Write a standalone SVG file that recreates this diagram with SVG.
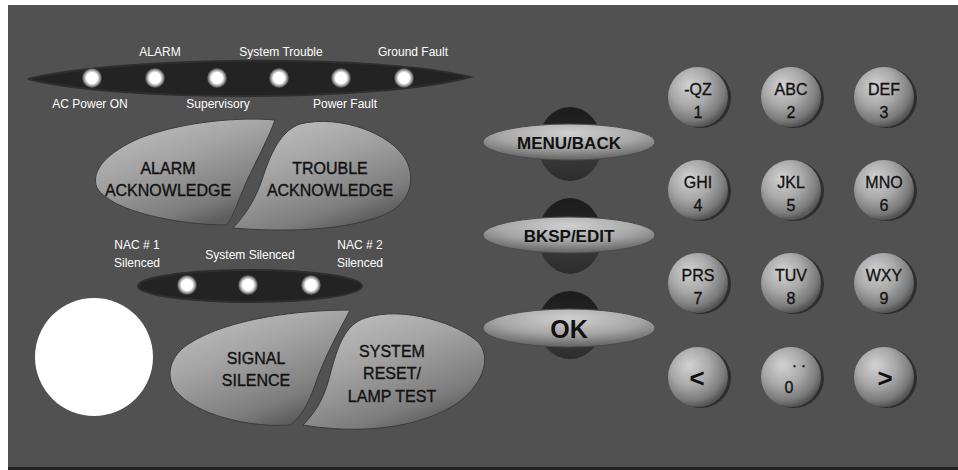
<svg xmlns="http://www.w3.org/2000/svg" width="958" height="470" viewBox="0 0 958 470">
<defs>
  <linearGradient id="bigBtn" x1="0" y1="0" x2="0.6" y2="1">
    <stop offset="0" stop-color="#c4c4c4"/>
    <stop offset="0.45" stop-color="#a4a4a4"/>
    <stop offset="0.85" stop-color="#7c7c7c"/>
    <stop offset="1" stop-color="#5e5e5e"/>
  </linearGradient>
  <radialGradient id="oval" cx="0.5" cy="0.25" r="0.7">
    <stop offset="0" stop-color="#d0d0d0"/>
    <stop offset="0.6" stop-color="#a6a6a6"/>
    <stop offset="1" stop-color="#6c6c6c"/>
  </radialGradient>
  <linearGradient id="dome" x1="0" y1="0" x2="0" y2="1">
    <stop offset="0" stop-color="#1c1c1c"/>
    <stop offset="0.5" stop-color="#262626"/>
    <stop offset="0.52" stop-color="#3e3e3e"/>
    <stop offset="1" stop-color="#2c2c2c"/>
  </linearGradient>
  <radialGradient id="key" cx="0.4" cy="0.35" r="0.65" fx="0.35" fy="0.3">
    <stop offset="0" stop-color="#d2d2d2"/>
    <stop offset="0.5" stop-color="#a9a9a9"/>
    <stop offset="0.85" stop-color="#7a7a7a"/>
    <stop offset="1" stop-color="#555555"/>
  </radialGradient>
  <radialGradient id="led" cx="0.5" cy="0.5" r="0.5">
    <stop offset="0" stop-color="#ffffff"/>
    <stop offset="0.55" stop-color="#ffffff"/>
    <stop offset="0.8" stop-color="#9a9a9a"/>
    <stop offset="1" stop-color="#3a3a3a"/>
  </radialGradient>
</defs>
<style>
  .lbl{font-family:"Liberation Sans",Arial,sans-serif;font-size:12px;fill:#ffffff;text-anchor:middle}
  .btxt{font-family:"Liberation Sans",Arial,sans-serif;font-size:16px;fill:#111111;stroke:#111111;stroke-width:0.35;text-anchor:middle}
  .otxt{font-family:"Liberation Sans",Arial,sans-serif;font-size:17px;font-weight:bold;fill:#111111;text-anchor:middle}
  .ktxt{font-family:"Liberation Sans",Arial,sans-serif;font-size:16px;fill:#111111;stroke:#111111;stroke-width:0.3;text-anchor:middle}
  .kdig{font-family:"Liberation Sans",Arial,sans-serif;font-size:16px;fill:#111111;stroke:#111111;stroke-width:0.3;text-anchor:middle}
  .karr{font-family:"Liberation Sans",Arial,sans-serif;font-size:26px;font-weight:bold;fill:#111111;text-anchor:middle}
  .big{fill:url(#bigBtn);stroke:#3c3c3c;stroke-width:1}
  .ov{fill:url(#oval);stroke:#4a4a4a;stroke-width:1}
  .dm{fill:url(#dome)}
  .k{fill:url(#key)}
  .ks{fill:#2e2e2e}
  .led{fill:url(#led)}
</style>
<rect x="0" y="0" width="958" height="470" fill="#ffffff"/>
<rect x="8" y="5" width="950" height="465" fill="#515151"/>
<rect x="8" y="467" width="950" height="3" fill="#222222"/>

<g id="top-leds">
  <path d="M28,79 C120,56 380,54 470,77 C380,102 120,102 28,79 Z" fill="#232323" stroke="#2e2e2e" stroke-width="2"/>
  <circle class="led" cx="92" cy="78" r="10"/>
  <circle class="led" cx="155" cy="78" r="10"/>
  <circle class="led" cx="217" cy="78" r="10"/>
  <circle class="led" cx="279" cy="78" r="10"/>
  <circle class="led" cx="341" cy="78" r="10"/>
  <circle class="led" cx="404" cy="78" r="10"/>
  <text class="lbl" x="160" y="56">ALARM</text>
  <text class="lbl" x="281" y="56">System Trouble</text>
  <text class="lbl" x="413" y="56">Ground Fault</text>
  <text class="lbl" x="90" y="108">AC Power ON</text>
  <text class="lbl" x="218" y="108">Supervisory</text>
  <text class="lbl" x="345" y="108">Power Fault</text>
</g>

<g id="alarm-ack">
  <path class="big" d="M275,120 C268,140 252,168 242,192 C236,207 233,217 226,225 C180,225 112,212 97,188 C90,170 108,152 140,138 C185,121 240,117 275,120 Z"/>
  <text class="btxt" x="168" y="174">ALARM</text>
  <text class="btxt" x="168" y="196">ACKNOWLEDGE</text>
</g>
<g id="trouble-ack">
  <path class="big" d="M233,228 C246,214 255,200 262,180 C270,155 280,131 300,124 C340,114 392,134 406,160 C416,180 410,200 390,212 C350,232 280,232 233,228 Z"/>
  <text class="btxt" x="330" y="174">TROUBLE</text>
  <text class="btxt" x="330" y="196">ACKNOWLEDGE</text>
</g>

<g id="lower-leds">
  <ellipse cx="250" cy="286" rx="112" ry="16" fill="#232323" stroke="#2e2e2e" stroke-width="2"/>
  <circle class="led" cx="187" cy="285" r="10"/>
  <circle class="led" cx="248" cy="285" r="10"/>
  <circle class="led" cx="311" cy="285" r="10"/>
  <text class="lbl" x="137" y="249">NAC # 1</text>
  <text class="lbl" x="137" y="267">Silenced</text>
  <text class="lbl" x="250" y="259">System Silenced</text>
  <text class="lbl" x="360" y="249">NAC # 2</text>
  <text class="lbl" x="360" y="267">Silenced</text>
</g>

<g id="white-circle">
  <circle cx="94" cy="357" r="59" fill="#ffffff"/>
</g>

<g id="signal-silence">
  <path class="big" d="M350,310 C340,330 325,355 315,385 C308,405 300,418 290,425 C250,428 195,415 175,390 C165,375 170,355 190,343 C230,318 300,310 350,310 Z"/>
  <text class="btxt" x="256" y="364">SIGNAL</text>
  <text class="btxt" x="256" y="386">SILENCE</text>
</g>
<g id="system-reset">
  <path class="big" d="M303,425 C318,410 325,395 330,375 C338,345 345,325 365,318 C405,305 460,325 478,342 C490,355 485,375 470,392 C445,420 380,438 303,425 Z"/>
  <text class="btxt" x="392" y="357">SYSTEM</text>
  <text class="btxt" x="392" y="379">RESET/</text>
  <text class="btxt" x="392" y="402">LAMP TEST</text>
</g>

<g id="menu-back">
  <ellipse class="dm" cx="570" cy="144" rx="32" ry="37"/>
  <ellipse class="ov" cx="569" cy="142" rx="86" ry="18"/>
  <text class="otxt" x="569" y="149">MENU/BACK</text>
</g>
<g id="bksp-edit">
  <ellipse class="dm" cx="570" cy="236" rx="32" ry="38"/>
  <ellipse class="ov" cx="569" cy="235" rx="86" ry="18"/>
  <text class="otxt" x="569" y="242">BKSP/EDIT</text>
</g>
<g id="ok">
  <ellipse class="dm" cx="570" cy="325" rx="32" ry="34"/>
  <ellipse class="ov" cx="569" cy="328" rx="86" ry="19"/>
  <text class="otxt" x="569" y="338" style="font-size:25px">OK</text>
</g>

<g id="key-1"><circle class="ks" cx="701" cy="98" r="30"/><circle class="k" cx="698" cy="97" r="30"/><text class="ktxt" x="698" y="95">-QZ</text><text class="kdig" x="698" y="118">1</text></g>
<g id="key-2"><circle class="ks" cx="794" cy="98" r="30"/><circle class="k" cx="791" cy="97" r="30"/><text class="ktxt" x="791" y="95">ABC</text><text class="kdig" x="791" y="118">2</text></g>
<g id="key-3"><circle class="ks" cx="887" cy="98" r="30"/><circle class="k" cx="884" cy="97" r="30"/><text class="ktxt" x="884" y="95">DEF</text><text class="kdig" x="884" y="118">3</text></g>
<g id="key-4"><circle class="ks" cx="701" cy="191" r="30"/><circle class="k" cx="698" cy="190" r="30"/><text class="ktxt" x="698" y="188">GHI</text><text class="kdig" x="698" y="211">4</text></g>
<g id="key-5"><circle class="ks" cx="794" cy="191" r="30"/><circle class="k" cx="791" cy="190" r="30"/><text class="ktxt" x="791" y="188">JKL</text><text class="kdig" x="791" y="211">5</text></g>
<g id="key-6"><circle class="ks" cx="887" cy="191" r="30"/><circle class="k" cx="884" cy="190" r="30"/><text class="ktxt" x="884" y="188">MNO</text><text class="kdig" x="884" y="211">6</text></g>
<g id="key-7"><circle class="ks" cx="701" cy="284" r="30"/><circle class="k" cx="698" cy="283" r="30"/><text class="ktxt" x="698" y="281">PRS</text><text class="kdig" x="698" y="304">7</text></g>
<g id="key-8"><circle class="ks" cx="794" cy="284" r="30"/><circle class="k" cx="791" cy="283" r="30"/><text class="ktxt" x="791" y="281">TUV</text><text class="kdig" x="791" y="304">8</text></g>
<g id="key-9"><circle class="ks" cx="887" cy="284" r="30"/><circle class="k" cx="884" cy="283" r="30"/><text class="ktxt" x="884" y="281">WXY</text><text class="kdig" x="884" y="304">9</text></g>
<g id="key-left"><circle class="ks" cx="701" cy="378" r="30"/><circle class="k" cx="698" cy="377" r="30"/><text class="karr" x="697" y="387">&lt;</text></g>
<g id="key-0"><circle class="ks" cx="794" cy="378" r="30"/><circle class="k" cx="791" cy="377" r="30"/><text class="kdig" x="799" y="367">. .</text><text class="kdig" x="789" y="393">0</text></g>
<g id="key-right"><circle class="ks" cx="887" cy="378" r="30"/><circle class="k" cx="884" cy="377" r="30"/><text class="karr" x="885" y="387">&gt;</text></g>
</svg>
